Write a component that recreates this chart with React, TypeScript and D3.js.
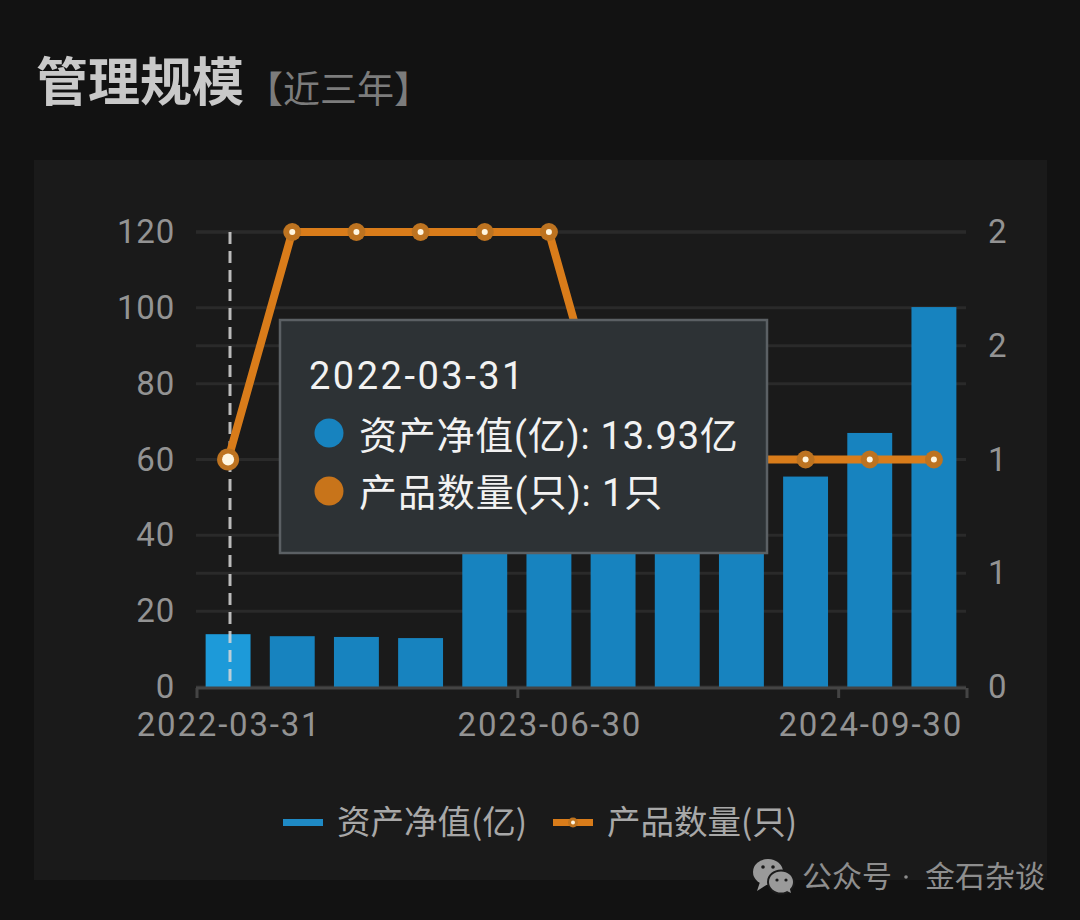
import React from "react";
import * as d3 from "d3";

const dates = ["2022-03-31","2022-06-30","2022-09-30","2022-12-31","2023-03-31","2023-06-30","2023-09-30","2023-12-31","2024-03-31","2024-06-30","2024-09-30","2024-12-31"];
const assets = [13.93, 13.4, 13.2, 12.9, 42, 44, 45, 46, 48, 55.5, 67, 100.2];
const counts = [1, 2, 2, 2, 2, 2, 1, 1, 1, 1, 1, 1];
const leftTicks = [0, 20, 40, 60, 80, 100, 120];
const rightTicks = [0, 0.5, 1, 1.5, 2];
const rightLabels = ["0", "1", "1", "2", "2"];
const xLabels = ["2022-03-31", "2023-06-30", "2024-09-30"];
const legendNames = ["资产净值(亿)", "产品数量(只)"];
const tooltipRows = ["资产净值(亿): 13.93亿", "产品数量(只): 1只"];

const FONT = "Roboto, 'Noto Sans CJK SC', sans-serif";
const CJK = "'Noto Sans CJK SC', sans-serif";
const AXIS = "#939393";
const ORANGE = "#d97c1a";
const BLUE = "#1783bf";

export default function App() {
  const x = d3.scaleBand().domain(dates).range([196, 966]).paddingInner(0.3).paddingOuter(0.15);
  const yL = d3.scaleLinear().domain([0, 120]).range([687, 232]);
  const yR = d3.scaleLinear().domain([0, 2]).range([687, 232]);
  const cx = (d: string) => (x(d) as number) + x.bandwidth() / 2;
  const line = d3.line<number>().x((_, i) => cx(dates[i])).y((v) => yR(v));
  const step = x.step();
  return (
    <svg width={1080} height={920} style={{ position: "absolute", left: 0, top: 0, background: "#121212" }}>
      <rect x={34} y={160} width={1013} height={720} fill="#1a1a1a" />
      <text x={36} y={101} fontFamily={CJK} fontSize={52} fontWeight={700} fill="#c9c9c9">管理规模</text>
      <text x={246} y={103} fontFamily={CJK} fontSize={37} fill="#7c7c7c">【近三年】</text>

      {rightTicks.map((t) => (
        <line key={"r" + t} x1={196} x2={966} y1={yR(t)} y2={yR(t)} stroke="#2a2a2a" strokeWidth={3} />
      ))}
      {leftTicks.slice(1).map((t) => (
        <line key={"l" + t} x1={196} x2={966} y1={yL(t)} y2={yL(t)} stroke="#2a2a2a" strokeWidth={3} />
      ))}
      {dates.map((d, i) => (
        <rect key={d} x={x(d)} y={yL(assets[i])} width={x.bandwidth()} height={687 - yL(assets[i])} fill={i === 0 ? "#1d9ad9" : BLUE} />
      ))}
      <line x1={196} x2={966} y1={688} y2={688} stroke="#444" strokeWidth={3} />
      {[0, 5, 10, 12].map((i) => (
        <line key={i} x1={197 + step * i} x2={197 + step * i} y1={688} y2={698} stroke="#444" strokeWidth={3} />
      ))}
      {leftTicks.map((t) => (
        <text key={t} x={175} y={yL(t) + 11} textAnchor="end" fontFamily={FONT} fontSize={33} letterSpacing={0.8} fill={AXIS}>{t}</text>
      ))}
      {rightTicks.map((t, i) => (
        <text key={t} x={988} y={yR(t) + 11} fontFamily={FONT} fontSize={33} fill={AXIS}>{rightLabels[i]}</text>
      ))}
      {xLabels.map((l) => (
        <text key={l} x={cx(l) + 1} y={736} textAnchor="middle" fontFamily={FONT} fontSize={33} letterSpacing={1.8} fill={AXIS}>{l}</text>
      ))}

      <line x1={230} x2={230} y1={232} y2={687} stroke="#d8d8d8" strokeWidth={3} strokeDasharray="12 7" opacity={0.85} />
      <path d={line(counts) as string} fill="none" stroke={ORANGE} strokeWidth={8} strokeLinejoin="round" />
      {dates.map((d, i) => (
        <g key={d}>
          <circle cx={cx(d)} cy={yR(counts[i])} r={i === 0 ? 11 : 9} fill="#bd7320" />
          <circle cx={cx(d)} cy={yR(counts[i])} r={i === 0 ? 6 : 3} fill="#fff6e0" />
        </g>
      ))}

      <rect x={280} y={320} width={487} height={233} fill="#2d3235" stroke="#5b6064" strokeWidth={2.5} />
      <text x={309} y={389} fontFamily={FONT} fontSize={38} letterSpacing={2.5} fill="#f2f2f2">{dates[0]}</text>
      <circle cx={329} cy={433} r={14.5} fill="#1783bf" />
      <circle cx={329} cy={491} r={14.5} fill="#c8741a" />
      <text x={359} y={449} fontFamily={FONT} fontSize={38} letterSpacing={0.75} fill="#f2f2f2">{tooltipRows[0]}</text>
      <text x={359} y={506} fontFamily={FONT} fontSize={38} letterSpacing={0.9} fill="#f2f2f2">{tooltipRows[1]}</text>

      <rect x={283} y={819} width={40} height={7} fill="#1f8ac5" />
      <text x={337} y={834} fontFamily={CJK} fontSize={33.5} fill="#a8a8a8">{legendNames[0]}</text>
      <rect x={553} y={819} width={40} height={7} fill={ORANGE} />
      <circle cx={573} cy={822.5} r={5} fill="#c0741f" />
      <circle cx={573} cy={822.5} r={2} fill="#fff6e0" />
      <text x={607} y={834} fontFamily={CJK} fontSize={33.5} fill="#a8a8a8">{legendNames[1]}</text>

      <g fill="#9a9a9a">
        <ellipse cx={768} cy={872} rx={15} ry={13} />
        <path d="M760 882 L757 891 L768 884 Z" />
      </g>
      <ellipse cx={781} cy={882} rx={13} ry={11.5} fill="#9a9a9a" stroke="#1a1a1a" strokeWidth={2} />
      <path d="M787 891 L791 893 L789 886 Z" fill="#9a9a9a" />
      <g fill="#1a1a1a">
        <circle cx={763} cy={867} r={1.8} /><circle cx={773} cy={867} r={1.8} />
        <circle cx={777} cy={880} r={1.6} /><circle cx={786} cy={880} r={1.6} />
      </g>
      <text x={802} y={887} fontFamily={CJK} fontSize={30} fill="#8e8e8e">公众号</text>
      <circle cx={906} cy={877} r={1.8} fill="#8e8e8e" />
      <text x={925} y={887} fontFamily={CJK} fontSize={30} fill="#8e8e8e">金石杂谈</text>
    </svg>
  );
}
